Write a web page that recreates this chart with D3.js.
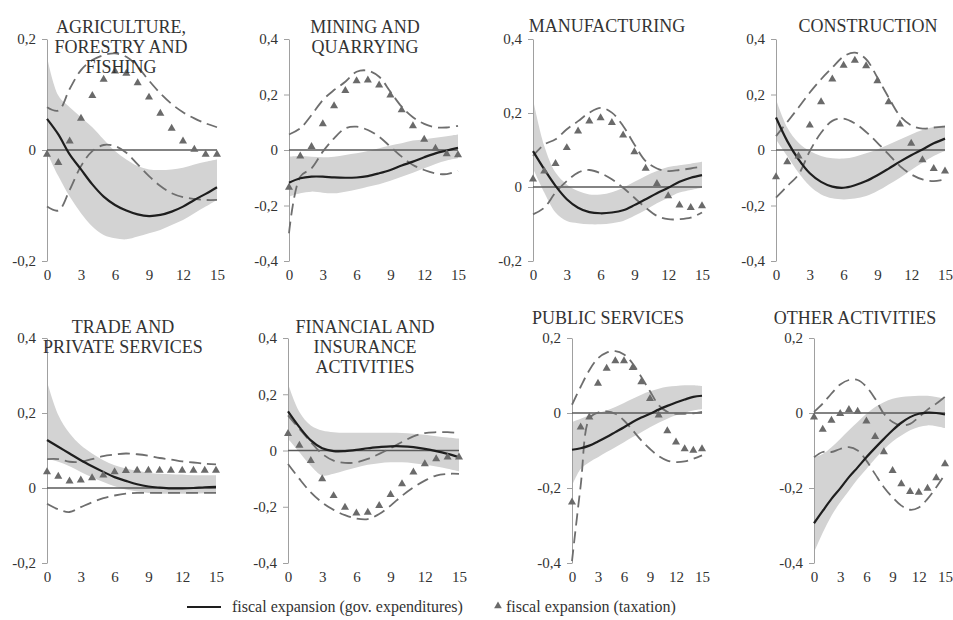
<!DOCTYPE html>
<html><head><meta charset="utf-8">
<script src="https://cdn.jsdelivr.net/npm/d3@7"></script>
<style>body{margin:0;background:#fff}svg{display:block}</style>
</head><body>
<svg id="c" width="953" height="620"></svg>
<script>
const steps = d3.range(0, 16);
const xTickValues = [0, 3, 6, 9, 12, 15];

// AGRICULTURE, FORESTRY AND FISHING
const agriGov   = [0.056,0.028,-0.008,-0.035,-0.062,-0.084,-0.099,-0.109,-0.116,-0.119,-0.117,-0.111,-0.102,-0.090,-0.079,-0.067];
const agriGovHi = [0.168,0.098,0.077,0.059,0.041,0.019,-0.002,-0.017,-0.029,-0.035,-0.036,-0.035,-0.032,-0.026,-0.021,-0.017];
const agriGovLo = [-0.005,-0.047,-0.084,-0.114,-0.138,-0.153,-0.159,-0.161,-0.156,-0.150,-0.144,-0.135,-0.126,-0.114,-0.102,-0.090];
const agriTax   = [-0.008,-0.023,0.016,0.057,0.098,0.127,0.142,0.138,0.121,0.095,0.066,0.039,0.016,0.001,-0.008,-0.008];
const agriTaxHi = [0.077,0.071,0.110,0.144,0.162,0.171,0.174,0.168,0.150,0.125,0.102,0.083,0.068,0.057,0.048,0.041];
const agriTaxLo = [-0.102,-0.109,-0.072,-0.029,-0.002,0.009,0.007,-0.005,-0.026,-0.047,-0.065,-0.078,-0.085,-0.088,-0.090,-0.090];

// MINING AND QUARRYING
const minGov   = [-0.118,-0.102,-0.096,-0.096,-0.099,-0.100,-0.099,-0.094,-0.084,-0.072,-0.056,-0.042,-0.026,-0.012,-0.002,0.008];
const minGovHi = [-0.024,-0.022,-0.024,-0.026,-0.024,-0.018,-0.012,-0.004,0.006,0.016,0.024,0.034,0.038,0.044,0.050,0.056];
const minGovLo = [-0.168,-0.156,-0.150,-0.154,-0.156,-0.150,-0.142,-0.132,-0.123,-0.111,-0.096,-0.082,-0.066,-0.050,-0.038,-0.030];
const minTax   = [-0.135,-0.022,0.012,0.094,0.159,0.214,0.249,0.252,0.234,0.198,0.144,0.087,0.038,0.006,-0.014,-0.018];
const minTaxHi = [0.056,0.078,0.126,0.180,0.216,0.246,0.282,0.286,0.264,0.210,0.156,0.118,0.094,0.082,0.081,0.087];
const minTaxLo = [-0.300,-0.096,-0.066,-0.006,0.042,0.078,0.084,0.072,0.048,0.012,-0.024,-0.054,-0.072,-0.084,-0.087,-0.075];

// MANUFACTURING
const manGov   = [0.097,0.048,0.003,-0.033,-0.056,-0.068,-0.071,-0.069,-0.063,-0.049,-0.033,-0.017,-0.002,0.014,0.025,0.032];
const manGovHi = [0.237,0.111,0.039,0.007,-0.011,-0.020,-0.020,-0.014,-0.002,0.014,0.030,0.043,0.054,0.059,0.063,0.068];
const manGovLo = [0.050,-0.015,-0.069,-0.092,-0.098,-0.101,-0.101,-0.098,-0.092,-0.078,-0.062,-0.044,-0.029,-0.015,-0.008,-0.002];
const manTax   = [0.021,0.043,0.063,0.106,0.151,0.178,0.187,0.174,0.140,0.095,0.050,0.009,-0.024,-0.049,-0.056,-0.051];
const manTaxHi = [0.084,0.115,0.129,0.156,0.178,0.201,0.214,0.201,0.165,0.115,0.070,0.050,0.043,0.046,0.050,0.055];
const manTaxLo = [-0.074,-0.056,-0.015,0.016,0.039,0.046,0.037,0.021,-0.002,-0.029,-0.056,-0.078,-0.087,-0.087,-0.083,-0.069];

// CONSTRUCTION
const conGov   = [0.117,0.032,-0.034,-0.084,-0.115,-0.132,-0.136,-0.127,-0.112,-0.091,-0.067,-0.042,-0.019,0.002,0.024,0.041];
const conGovHi = [0.183,0.081,0.026,-0.004,-0.022,-0.030,-0.031,-0.024,-0.012,0.002,0.020,0.038,0.056,0.072,0.083,0.089];
const conGovLo = [0.038,-0.022,-0.082,-0.130,-0.160,-0.174,-0.178,-0.175,-0.166,-0.148,-0.124,-0.100,-0.072,-0.046,-0.022,-0.004];
const conTax   = [-0.097,-0.043,-0.022,0.089,0.173,0.255,0.305,0.323,0.303,0.249,0.173,0.093,0.024,-0.036,-0.067,-0.076];
const conTaxHi = [0.050,0.101,0.153,0.207,0.255,0.297,0.337,0.351,0.327,0.261,0.189,0.123,0.089,0.077,0.081,0.084];
const conTaxLo = [-0.172,-0.130,-0.088,-0.004,0.062,0.105,0.113,0.096,0.065,0.026,-0.016,-0.058,-0.088,-0.106,-0.112,-0.106];

// TRADE AND PRIVATE SERVICES
const traGov   = [0.128,0.110,0.092,0.074,0.058,0.043,0.029,0.019,0.010,0.004,0.001,-0.001,-0.001,0.000,0.002,0.003];
const traGovHi = [0.284,0.195,0.146,0.114,0.092,0.074,0.061,0.052,0.046,0.041,0.038,0.037,0.036,0.034,0.034,0.034];
const traGovLo = [0.079,0.070,0.058,0.043,0.029,0.016,0.005,-0.004,-0.009,-0.013,-0.015,-0.015,-0.015,-0.015,-0.014,-0.013];
const traTax   = [0.043,0.031,0.018,0.021,0.027,0.034,0.043,0.046,0.047,0.047,0.047,0.047,0.047,0.047,0.047,0.047];
const traTaxHi = [0.077,0.077,0.070,0.070,0.077,0.085,0.089,0.092,0.090,0.086,0.080,0.076,0.071,0.068,0.065,0.063];
const traTaxLo = [-0.042,-0.057,-0.064,-0.051,-0.038,-0.027,-0.020,-0.015,-0.013,-0.013,-0.013,-0.013,-0.013,-0.013,-0.013,-0.013];

// FINANCIAL AND INSURANCE ACTIVITIES
const finGov   = [0.139,0.083,0.036,0.008,-0.002,-0.002,0.002,0.008,0.012,0.015,0.015,0.012,0.006,-0.002,-0.012,-0.024];
const finGovHi = [0.238,0.137,0.089,0.071,0.065,0.063,0.063,0.063,0.063,0.063,0.062,0.060,0.056,0.051,0.046,0.042];
const finGovLo = [0.042,-0.006,-0.054,-0.089,-0.083,-0.071,-0.060,-0.051,-0.045,-0.042,-0.042,-0.045,-0.051,-0.057,-0.065,-0.074];
const finTax   = [0.060,0.018,-0.036,-0.101,-0.161,-0.202,-0.223,-0.220,-0.196,-0.157,-0.119,-0.077,-0.048,-0.030,-0.024,-0.024];
const finTaxHi = [0.125,0.077,0.030,-0.012,-0.036,-0.044,-0.042,-0.030,-0.012,0.008,0.030,0.050,0.062,0.065,0.065,0.062];
const finTaxLo = [-0.048,-0.101,-0.149,-0.185,-0.211,-0.230,-0.242,-0.244,-0.226,-0.196,-0.161,-0.131,-0.107,-0.089,-0.083,-0.083];

// PUBLIC SERVICES
const pubGov   = [-0.098,-0.094,-0.087,-0.076,-0.064,-0.051,-0.038,-0.024,-0.012,-0.002,0.009,0.019,0.028,0.036,0.043,0.046];
const pubGovHi = [-0.024,-0.015,-0.006,0.001,0.007,0.016,0.027,0.038,0.049,0.058,0.065,0.070,0.072,0.074,0.074,0.072];
const pubGovLo = [-0.194,-0.149,-0.131,-0.118,-0.104,-0.091,-0.078,-0.064,-0.051,-0.038,-0.026,-0.015,-0.006,0.001,0.007,0.010];
const pubTax   = [-0.238,-0.038,-0.011,0.079,0.119,0.139,0.139,0.121,0.083,0.038,-0.006,-0.048,-0.078,-0.096,-0.100,-0.096];
const pubTaxHi = [0.022,0.070,0.114,0.146,0.161,0.165,0.156,0.132,0.096,0.058,0.021,0.003,-0.002,-0.002,-0.001,0.003];
const pubTaxLo = [-0.395,-0.194,-0.015,0.001,0.004,-0.002,-0.020,-0.046,-0.073,-0.096,-0.115,-0.127,-0.131,-0.129,-0.122,-0.113];

// OTHER ACTIVITIES
const othGov   = [-0.294,-0.261,-0.229,-0.201,-0.171,-0.145,-0.118,-0.093,-0.069,-0.046,-0.026,-0.011,-0.002,0.001,0.000,-0.004];
const othGovHi = [-0.118,-0.109,-0.091,-0.069,-0.046,-0.024,-0.002,0.016,0.029,0.038,0.043,0.045,0.046,0.046,0.043,0.038];
const othGovLo = [-0.372,-0.319,-0.274,-0.238,-0.207,-0.176,-0.149,-0.122,-0.097,-0.076,-0.060,-0.046,-0.037,-0.033,-0.035,-0.040];
const othTax   = [-0.011,-0.044,-0.020,-0.002,0.009,0.004,-0.022,-0.063,-0.104,-0.154,-0.189,-0.210,-0.212,-0.201,-0.173,-0.136];
const othTaxHi = [0.003,0.025,0.052,0.076,0.088,0.088,0.070,0.038,-0.002,-0.024,-0.033,-0.029,-0.011,0.009,0.025,0.043];
const othTaxLo = [-0.118,-0.104,-0.104,-0.096,-0.091,-0.100,-0.127,-0.163,-0.198,-0.225,-0.247,-0.258,-0.252,-0.229,-0.198,-0.163];

const sectorTitles = [
  ["AGRICULTURE,", "FORESTRY AND", "FISHING"],
  ["MINING AND", "QUARRYING"],
  ["MANUFACTURING"],
  ["CONSTRUCTION"],
  ["TRADE AND", "PRIVATE SERVICES"],
  ["FINANCIAL AND", "INSURANCE", "ACTIVITIES"],
  ["PUBLIC SERVICES"],
  ["OTHER ACTIVITIES"]
];
const yDomains = [[-0.2,0.2],[-0.4,0.4],[-0.2,0.4],[-0.4,0.4],[-0.2,0.4],[-0.4,0.4],[-0.4,0.2],[-0.4,0.2]];
const legendLabels = ["fiscal expansion (gov. expenditures)", "fiscal expansion (taxation)"];

const series = [
  [agriGov, agriGovLo, agriGovHi, agriTax, agriTaxLo, agriTaxHi],
  [minGov, minGovLo, minGovHi, minTax, minTaxLo, minTaxHi],
  [manGov, manGovLo, manGovHi, manTax, manTaxLo, manTaxHi],
  [conGov, conGovLo, conGovHi, conTax, conTaxLo, conTaxHi],
  [traGov, traGovLo, traGovHi, traTax, traTaxLo, traTaxHi],
  [finGov, finGovLo, finGovHi, finTax, finTaxLo, finTaxHi],
  [pubGov, pubGovLo, pubGovHi, pubTax, pubTaxLo, pubTaxHi],
  [othGov, othGovLo, othGovHi, othTax, othTaxLo, othTaxHi]
];

// layout (pixel geometry)
const layout = [
  {x0:47,  x1:217, top:39,  bot:261, tx:121, ty:27},
  {x0:289, x1:458, top:39,  bot:261, tx:365, ty:27},
  {x0:533, x1:702, top:39,  bot:261, tx:607, ty:26},
  {x0:776, x1:945, top:39,  bot:261, tx:868, ty:26},
  {x0:47,  x1:216, top:338, bot:563, tx:123, ty:327},
  {x0:288, x1:459, top:338, bot:563, tx:365, ty:327},
  {x0:572, x1:702, top:338, bot:563, tx:608, ty:318},
  {x0:814, x1:945, top:338, bot:563, tx:855, ty:318}
];

const serif = "'Liberation Serif','Times New Roman',serif";
const fmt = v => Math.abs(v) < 1e-9 ? "0" : (v < 0 ? "-" : "") + Math.abs(v).toFixed(1).replace(".", ",");
const svg = d3.select("#c");

layout.forEach((L, p) => {
  const [gov, govLo, govHi, tax, taxLo, taxHi] = series[p];
  const dom = yDomains[p];
  const x = d3.scaleLinear().domain([0, 15]).range([L.x0, L.x1]);
  const y = d3.scaleLinear().domain(dom).range([L.bot, L.top]);
  const g = svg.append("g");
  const curve = d3.curveCatmullRom.alpha(0.5);

  // confidence band (gov. expenditures)
  g.append("path")
    .datum(steps)
    .attr("fill", "#d3d3d3")
    .attr("d", d3.area().curve(curve).x(i => x(i)).y0(i => y(govLo[i])).y1(i => y(govHi[i])));

  // y axis
  const ticks = d3.range(Math.round(dom[0]*10), Math.round(dom[1]*10) + 1, 2).map(v => v / 10);
  const ya = g.append("g").attr("transform", `translate(${L.x0},0)`)
    .call(d3.axisLeft(y).tickValues(ticks).tickSize(5).tickSizeOuter(0).tickPadding(6).tickFormat(fmt));
  ya.select(".domain").attr("stroke", "#a0a0a0");
  ya.selectAll(".tick line").attr("stroke", "#a0a0a0");
  ya.selectAll("text").attr("font-family", serif).attr("font-size", 15).attr("fill", "#333");

  // x axis labels (low)
  const xa = g.append("g").attr("transform", `translate(0,${L.bot})`)
    .call(d3.axisBottom(x).tickValues(xTickValues).tickSize(0).tickPadding(8));
  xa.select(".domain").remove();
  xa.selectAll("text").attr("font-family", serif).attr("font-size", 15).attr("fill", "#333");

  // zero line
  g.append("line")
    .attr("x1", x(0)).attr("x2", x(15)).attr("y1", y(0)).attr("y2", y(0))
    .attr("stroke", "#5a5a5a").attr("stroke-width", 1.6);

  // dashed tax bands
  [taxLo, taxHi].forEach(arr => {
    g.append("path").datum(steps)
      .attr("fill", "none").attr("stroke", "#6e6e6e").attr("stroke-width", 1.8)
      .attr("stroke-dasharray", "12,6")
      .attr("d", d3.line().curve(curve).x(i => x(i)).y(i => y(arr[i])));
  });

  // solid gov line
  g.append("path").datum(steps)
    .attr("fill", "none").attr("stroke", "#1e1e1e").attr("stroke-width", 2.2)
    .attr("d", d3.line().curve(curve).x(i => x(i)).y(i => y(gov[i])));

  // triangles
  const tri = d3.symbol().type(d3.symbolTriangle).size(28);
  g.selectAll(".tri").data(steps).enter().append("path")
    .attr("transform", i => `translate(${x(i)},${y(tax[i])})`)
    .attr("d", tri).attr("fill", "#6a6a6a");

  // title
  const t = g.append("text").attr("x", L.tx).attr("y", L.ty)
    .attr("text-anchor", "middle").attr("font-family", serif).attr("font-size", 18).attr("fill", "#333");
  sectorTitles[p].forEach((s, k) => {
    t.append("tspan").attr("x", L.tx).attr("y", L.ty + k * 20).attr("dy", "0.35em").text(s);
  });
});

// legend
const lg = svg.append("g").attr("font-family", serif).attr("font-size", 16).attr("fill", "#333");
lg.append("line").attr("x1", 187).attr("x2", 221).attr("y1", 607).attr("y2", 607)
  .attr("stroke", "#1e1e1e").attr("stroke-width", 2);
lg.append("text").attr("x", 232).attr("y", 607).attr("dy", "0.33em").text(legendLabels[0]);
lg.append("path").attr("transform", "translate(498,606)")
  .attr("d", d3.symbol().type(d3.symbolTriangle).size(26)).attr("fill", "#6a6a6a");
lg.append("text").attr("x", 506).attr("y", 607).attr("dy", "0.33em").text(legendLabels[1]);
</script>
</body></html>
